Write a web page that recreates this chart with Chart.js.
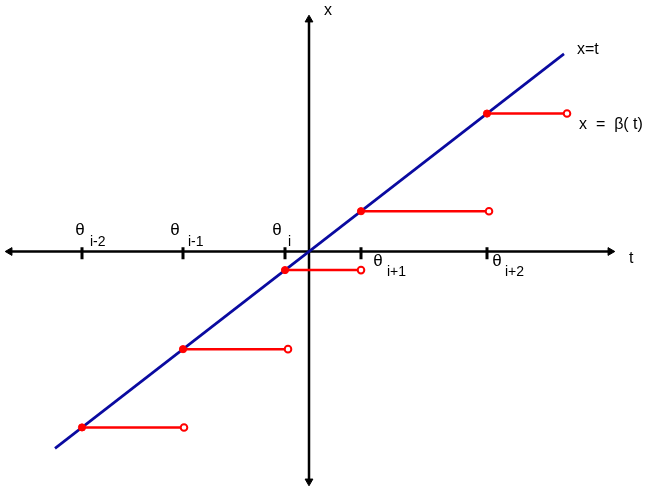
<!DOCTYPE html>
<html>
<head>
<meta charset="utf-8">
<script src="https://cdn.jsdelivr.net/npm/chart.js@4"></script>
<style>
html, body { margin: 0; padding: 0; background: #fff; }
canvas { display: block; }
</style>
</head>
<body>
<canvas id="stepChart" width="654" height="491"></canvas>
<script>
// theta_k on the t axis
const thetas = [-22.7, -12.6, -2.4, 5.2, 17.8];
const thetaSubs = ['i-2', 'i-1', 'i', 'i+1', 'i+2'];
// right (open) end of each step
const stepEnds = [-12.5, -2.1, 5.2, 18.0, 25.8];
const diagEnds = [-25.4, 25.5];     // x = t drawn between these t values
const tAxisEnds = [-29.93, 30.13];
const xAxisEnds = [-29.65, 29.91];
const tickSpan = [0.55, -1.0];

const RED = '#ff0000';
const BLUE = '#0a0aa0';

// beta(t) = theta_k on [theta_k, theta_k+1)
const stepSets = thetas.map((th, k) => ({
  data: [{ x: th, y: th }, { x: stepEnds[k], y: th }],
  showLine: true,
  borderColor: RED,
  borderWidth: 2.5,
  pointRadius: [3.6, 3.3],
  pointBorderWidth: [1, 2],
  pointBackgroundColor: [RED, '#ffffff'],
  pointBorderColor: RED
}));

const tickSets = thetas.map(th => ({
  data: [{ x: th, y: tickSpan[0] }, { x: th, y: tickSpan[1] }],
  showLine: true,
  borderColor: '#000',
  borderWidth: 3,
  pointRadius: 0
}));

const diagSet = {
  data: diagEnds.map(v => ({ x: v, y: v })),
  showLine: true,
  borderColor: BLUE,
  borderWidth: 2.7,
  pointRadius: 0
};

const axisStyle = {
  showLine: true,
  borderColor: '#000',
  borderWidth: 2.5,
  pointStyle: 'triangle',
  pointRadius: 4.5,
  pointBackgroundColor: '#000',
  pointBorderColor: '#000',
  pointBorderWidth: 1
};
const tAxisSet = Object.assign({}, axisStyle, {
  data: tAxisEnds.map(v => ({ x: v, y: 0 })),
  pointRotation: [-90, 90]
});
const xAxisSet = Object.assign({}, axisStyle, {
  data: xAxisEnds.map(v => ({ x: 0, y: v })),
  pointRotation: [180, 0]
});

const FONT = '"Liberation Sans", Arial, sans-serif';

const labelPlugin = {
  id: 'labels',
  afterDatasetsDraw(chart) {
    const ctx = chart.ctx;
    const px = v => chart.scales.x.getPixelForValue(v);
    const py = v => chart.scales.y.getPixelForValue(v);
    const y0 = py(0);
    ctx.save();
    ctx.fillStyle = '#000';
    ctx.textBaseline = 'middle';

    ctx.font = '16px ' + FONT;
    ctx.textAlign = 'center';
    ctx.fillText('x', px(0) + 19, py(xAxisEnds[1]) - 9);
    ctx.fillText('t', px(tAxisEnds[1]) + 21, y0 + 7);
    ctx.textAlign = 'left';
    ctx.fillText('x=t', px(diagEnds[1]) + 13, py(diagEnds[1]) - 4);
    ctx.fillText('x  =  \u03b2( t)', px(stepEnds[4]) + 12, py(thetas[4]) + 11);

    // theta labels: above the axis on the left, below on the right
    const thOff = [-2, -8, -8, 17, 10];
    const subOff = [8, 5, 3, 26, 18];
    thetaSubs.forEach((s, k) => {
      const x = px(thetas[k]);
      const above = thetas[k] < 0;
      ctx.font = '17px ' + FONT;
      ctx.textAlign = 'center';
      ctx.fillText('\u03b8', x + thOff[k], above ? y0 - 21 : y0 + 10);
      ctx.font = '14px ' + FONT;
      ctx.textAlign = 'left';
      ctx.fillText(s, x + subOff[k], above ? y0 - 9 : y0 + 21);
    });
    ctx.restore();
  }
};

new Chart(document.getElementById('stepChart'), {
  type: 'scatter',
  data: {
    datasets: [...stepSets, diagSet, ...tickSets, tAxisSet, xAxisSet]
  },
  options: {
    responsive: false,
    animation: false,
    events: [],
    layout: { padding: 0, autoPadding: false },
    plugins: { legend: { display: false }, tooltip: { enabled: false } },
    scales: {
      x: { type: 'linear', min: -30.9, max: 34.5, display: false },
      y: { type: 'linear', min: -30.9, max: 32.45, display: false }
    }
  },
  plugins: [labelPlugin]
});
</script>
</body>
</html>
